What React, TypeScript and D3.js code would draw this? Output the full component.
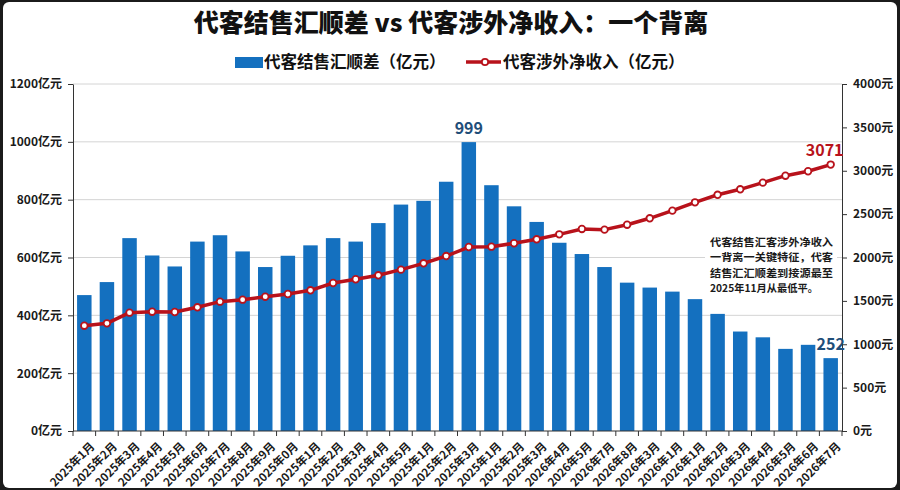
import { useEffect, useRef } from "react";
import * as d3 from "d3";

// x-axis labels as printed on the chart (including its odd month labels)
const months = [
  "2025年1月", "2025年2月", "2025年3月", "2025年4月", "2025年5月", "2025年6月",
  "2025年7月", "2025年8月", "2025年9月", "2025年0月", "2025年1月", "2025年2月",
  "2025年3月", "2025年4月", "2025年5月", "2025年1月", "2025年2月", "2025年3月",
  "2025年1月", "2025年2月", "2025年3月", "2026年4月", "2026年5月", "2026年7月",
  "2026年8月", "2026年3月", "2026年1月", "2026年1月", "2026年2月", "2026年3月",
  "2026年4月", "2026年5月", "2026年6月", "2026年7月",
];

// 代客结售汇顺差（亿元）
const surplus = [
  470, 515, 667, 607, 569, 655, 677, 621, 567, 606, 642, 667,
  655, 719, 783, 796, 862, 999, 850, 777, 723, 651, 612, 567,
  513, 496, 482, 456, 405, 344, 324, 284, 298, 252,
];

// 代客涉外净收入（亿元）
const income = [
  1214, 1241, 1364, 1375, 1372, 1426, 1491, 1514, 1548, 1579, 1622, 1706,
  1749, 1795, 1860, 1933, 2017, 2121, 2125, 2164, 2210, 2267, 2329, 2321,
  2378, 2452, 2540, 2636, 2723, 2786, 2863, 2943, 2994, 3071,
];

const leftTicks = [0, 200, 400, 600, 800, 1000, 1200];
const rightTicks = [0, 500, 1000, 1500, 2000, 2500, 3000, 3500, 4000];

const note = [
  "代客结售汇客涉外净收入",
  "一背离一关键特征，代客",
  "结售汇汇顺差到接源最至",
  "2025年11月从最低平。",
];

const BLUE = "#1470bf";
const RED = "#b8121b";
const FONT = "'Noto Sans CJK SC', 'Noto Sans', sans-serif";

const App = () => {
  const chartRef = useRef(null);

  useEffect(() => {
    const width = 900;
    const height = 490;
    const margin = { top: 84, right: 58, bottom: 59, left: 73 };

    const svg = d3
      .select(chartRef.current)
      .html("")
      .append("svg")
      .attr("width", width)
      .attr("height", height)
      .style("font-family", FONT);

    // dark frame + white card
    svg.append("rect").attr("width", width).attr("height", height).attr("fill", "#1b1b1b");
    svg
      .append("rect")
      .attr("x", 3)
      .attr("y", 2)
      .attr("width", width - 6)
      .attr("height", height - 4)
      .attr("rx", 6)
      .attr("fill", "#ffffff");

    const idx = months.map((_, i) => i);

    const x = d3
      .scaleBand<number>()
      .domain(idx)
      .range([margin.left, width - margin.right])
      .paddingInner(0.36)
      .paddingOuter(0.18);

    const yL = d3.scaleLinear().domain([0, 1200]).range([height - margin.bottom, margin.top]);
    const yR = d3.scaleLinear().domain([0, 4000]).range([height - margin.bottom, margin.top]);

    // title
    svg
      .append("text")
      .attr("x", 451)
      .attr("y", 32)
      .attr("text-anchor", "middle")
      .attr("font-size", 25)
      .attr("font-weight", 900)
      .attr("fill", "#111")
      .text("代客结售汇顺差 vs 代客涉外净收入：一个背离");

    // legend
    const lg = svg.append("g").attr("font-size", 16.5).attr("font-weight", 700).attr("fill", "#111");
    lg.append("rect").attr("x", 235).attr("y", 57).attr("width", 28).attr("height", 11).attr("fill", BLUE);
    lg.append("text").attr("x", 264).attr("y", 68).text("代客结售汇顺差（亿元）");
    lg.append("line")
      .attr("x1", 466).attr("x2", 501).attr("y1", 62).attr("y2", 62)
      .attr("stroke", RED).attr("stroke-width", 3.5);
    lg.append("circle")
      .attr("cx", 485).attr("cy", 62).attr("r", 3.2)
      .attr("fill", "#fff").attr("stroke", RED).attr("stroke-width", 1.8);
    lg.append("text").attr("x", 503).attr("y", 68).text("代客涉外净收入（亿元）");

    // gridlines
    svg
      .append("g")
      .selectAll("line")
      .data(leftTicks.filter((d) => d > 0))
      .enter()
      .append("line")
      .attr("x1", margin.left)
      .attr("x2", width - margin.right)
      .attr("y1", (d) => yL(d))
      .attr("y2", (d) => yL(d))
      .attr("stroke", "#d4d4d4")
      .attr("stroke-width", 1);

    // bars
    svg
      .append("g")
      .selectAll("rect")
      .data(surplus)
      .enter()
      .append("rect")
      .attr("x", (_, i) => x(i)!)
      .attr("y", (d) => yL(d))
      .attr("width", x.bandwidth())
      .attr("height", (d) => yL(0) - yL(d))
      .attr("fill", BLUE);

    // note box
    svg
      .append("rect")
      .attr("x", 705)
      .attr("y", 233)
      .attr("width", 132)
      .attr("height", 61)
      .attr("fill", "#fff");
    svg
      .append("g")
      .attr("font-size", 10.5)
      .attr("font-weight", 700)
      .attr("fill", "#1a1a1a")
      .selectAll("text")
      .data(note)
      .enter()
      .append("text")
      .attr("x", 710)
      .attr("y", (_, i) => 246 + i * 15.3)
      .attr("textLength", (_, i) => (i === 3 ? 108 : 123))
      .attr("lengthAdjust", "spacingAndGlyphs")
      .text((d) => d);

    // line series
    const cx = (i: number) => x(i)! + x.bandwidth() / 2;
    const line = d3
      .line<number>()
      .x((_, i) => cx(i))
      .y((d) => yR(d));

    svg
      .append("path")
      .datum(income)
      .attr("d", line)
      .attr("fill", "none")
      .attr("stroke", RED)
      .attr("stroke-width", 3.5)
      .attr("stroke-linejoin", "round");

    svg
      .append("g")
      .selectAll("circle")
      .data(income)
      .enter()
      .append("circle")
      .attr("cx", (_, i) => cx(i))
      .attr("cy", (d) => yR(d))
      .attr("r", 3.3)
      .attr("fill", "#fff")
      .attr("stroke", RED)
      .attr("stroke-width", 1.8);

    // axes
    const axisFont = (g: any) => {
      g.select(".domain").attr("stroke", "#333");
      g.selectAll(".tick line").attr("stroke", "#333");
      g.selectAll(".tick text")
        .attr("font-size", 12)
        .attr("font-weight", 700)
        .attr("fill", "#1a1a1a")
        .attr("font-family", FONT);
    };

    svg
      .append("g")
      .attr("transform", `translate(${margin.left},0)`)
      .call(
        d3.axisLeft(yL).tickValues(leftTicks).tickFormat((d) => `${d}亿元`).tickSize(5).tickSizeOuter(0).tickPadding(6)
      )
      .call(axisFont);

    svg
      .append("g")
      .attr("transform", `translate(${width - margin.right},0)`)
      .call(
        d3.axisRight(yR).tickValues(rightTicks).tickFormat((d) => `${d}元`).tickSize(5).tickSizeOuter(0).tickPadding(6)
      )
      .call(axisFont);

    // bottom axis: line, ticks between categories, rotated labels
    const base = yL(0);
    const bx = svg.append("g");
    bx.append("line")
      .attr("x1", margin.left)
      .attr("x2", width - margin.right)
      .attr("y1", base)
      .attr("y2", base)
      .attr("stroke", "#333");
    bx.selectAll("line.tk")
      .data(d3.range(months.length + 1))
      .enter()
      .append("line")
      .attr("class", "tk")
      .attr("x1", (i) => margin.left + i * x.step())
      .attr("x2", (i) => margin.left + i * x.step())
      .attr("y1", base)
      .attr("y2", base + 5)
      .attr("stroke", "#333");
    bx.selectAll("text")
      .data(months)
      .enter()
      .append("text")
      .attr("transform", (_, i) => `translate(${cx(i) + 11},${base + 16}) rotate(-45)`)
      .attr("text-anchor", "end")
      .attr("font-size", 11.5)
      .attr("font-weight", 700)
      .attr("fill", "#1a1a1a")
      .text((d) => d);

    // value labels
    const peak = surplus.indexOf(d3.max(surplus)!);
    const last = surplus.length - 1;
    svg
      .append("text")
      .attr("x", cx(peak))
      .attr("y", yL(surplus[peak]) - 8)
      .attr("text-anchor", "middle")
      .attr("font-size", 16)
      .attr("font-weight", 700)
      .attr("fill", "#1f4e79")
      .text(surplus[peak]);
    svg
      .append("text")
      .attr("x", cx(last))
      .attr("y", yL(surplus[last]) - 8)
      .attr("text-anchor", "middle")
      .attr("font-size", 16)
      .attr("font-weight", 700)
      .attr("fill", "#1f4e79")
      .text(surplus[last]);
    svg
      .append("text")
      .attr("x", cx(last) - 6)
      .attr("y", yR(income[last]) - 9)
      .attr("text-anchor", "middle")
      .attr("font-size", 16)
      .attr("font-weight", 700)
      .attr("fill", RED)
      .text(income[last]);
  }, []);

  return <div ref={chartRef} style={{ position: "fixed", left: 0, top: 0 }} />;
};

export default App;
